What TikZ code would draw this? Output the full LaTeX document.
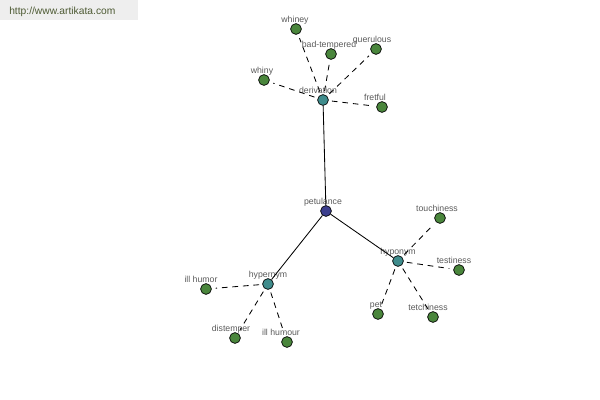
\documentclass[tikz,border=0pt]{standalone}
\usepackage{fontspec}
\setmainfont{Liberation Sans}
\definecolor{rootblue}{HTML}{3C3F8E}
\definecolor{hubteal}{HTML}{3F8C8C}
\definecolor{leafgreen}{HTML}{4A863C}
\definecolor{labelgray}{HTML}{5A5A5A}
\definecolor{bargray}{HTML}{EEEEEE}
\definecolor{urlolive}{HTML}{4D5A33}
\tikzset{
  dot/.style={circle, draw=black, line width=0.5pt, minimum size=0.27cm, inner sep=0pt, label distance=0.05cm},
  lbl/.style={font=\fontsize{6.2}{7}\selectfont, text=labelgray, inner sep=0pt, text depth=0pt},
  link/.style={line width=0.6pt},
  rel/.style={line width=0.6pt, dash pattern=on 4pt off 3.5pt, shorten <=0.08cm, shorten >=0.1cm}
}
\begin{document}
\begin{tikzpicture}[x=0.025cm, y=-0.025cm]
\useasboundingbox (0,0) rectangle (600,400);

\fill[bargray] (0,0) rectangle (138,20);
\node[anchor=base west, inner sep=0pt, font=\fontsize{7.3}{8}\selectfont, text=urlolive] (url) at (9,14.5) {http://www.artikata.com};

\node[dot, fill=rootblue, label={[lbl, xshift=-3*0.025cm]above:petulance}] (petulance) at (326,211) {};
\node[dot, fill=hubteal, label={[lbl, xshift=-5*0.025cm]above:derivation}] (derivation) at (323,100) {};
\node[dot, fill=hubteal, label={[lbl]above:hyponym}] (hyponym) at (398,261) {};
\node[dot, fill=hubteal, label={[lbl]above:hypernym}] (hypernym) at (268,284) {};

\draw[link] (petulance) -- (derivation);
\draw[link] (petulance) -- (hyponym);
\draw[link] (petulance) -- (hypernym);

\foreach \name/\x/\y/\dx/\txt/\hub in {whiney/296/29/-1/whiney/derivation, badtempered/331/54/-2/bad-tempered/derivation, querulous/376/49/-4/querulous/derivation, whiny/264/80/-2/whiny/derivation, fretful/382/107/-7/fretful/derivation, touchiness/440/218/-3/touchiness/hyponym, testiness/459/270/-5/testiness/hyponym, pet/378/314/-2/pet/hyponym, tetchiness/433/317/-5/tetchiness/hyponym, illhumor/206/289/-5/ill humor/hypernym, distemper/235/338/-4/distemper/hypernym, illhumour/287/342/-6/ill humour/hypernym} {
	\node[dot, fill=leafgreen, label={[lbl, xshift=\dx*0.025cm]above:\txt}] (\name) at (\x,\y) {};
	\draw[rel] (\hub) -- (\name);
}
\end{tikzpicture}
\end{document}
